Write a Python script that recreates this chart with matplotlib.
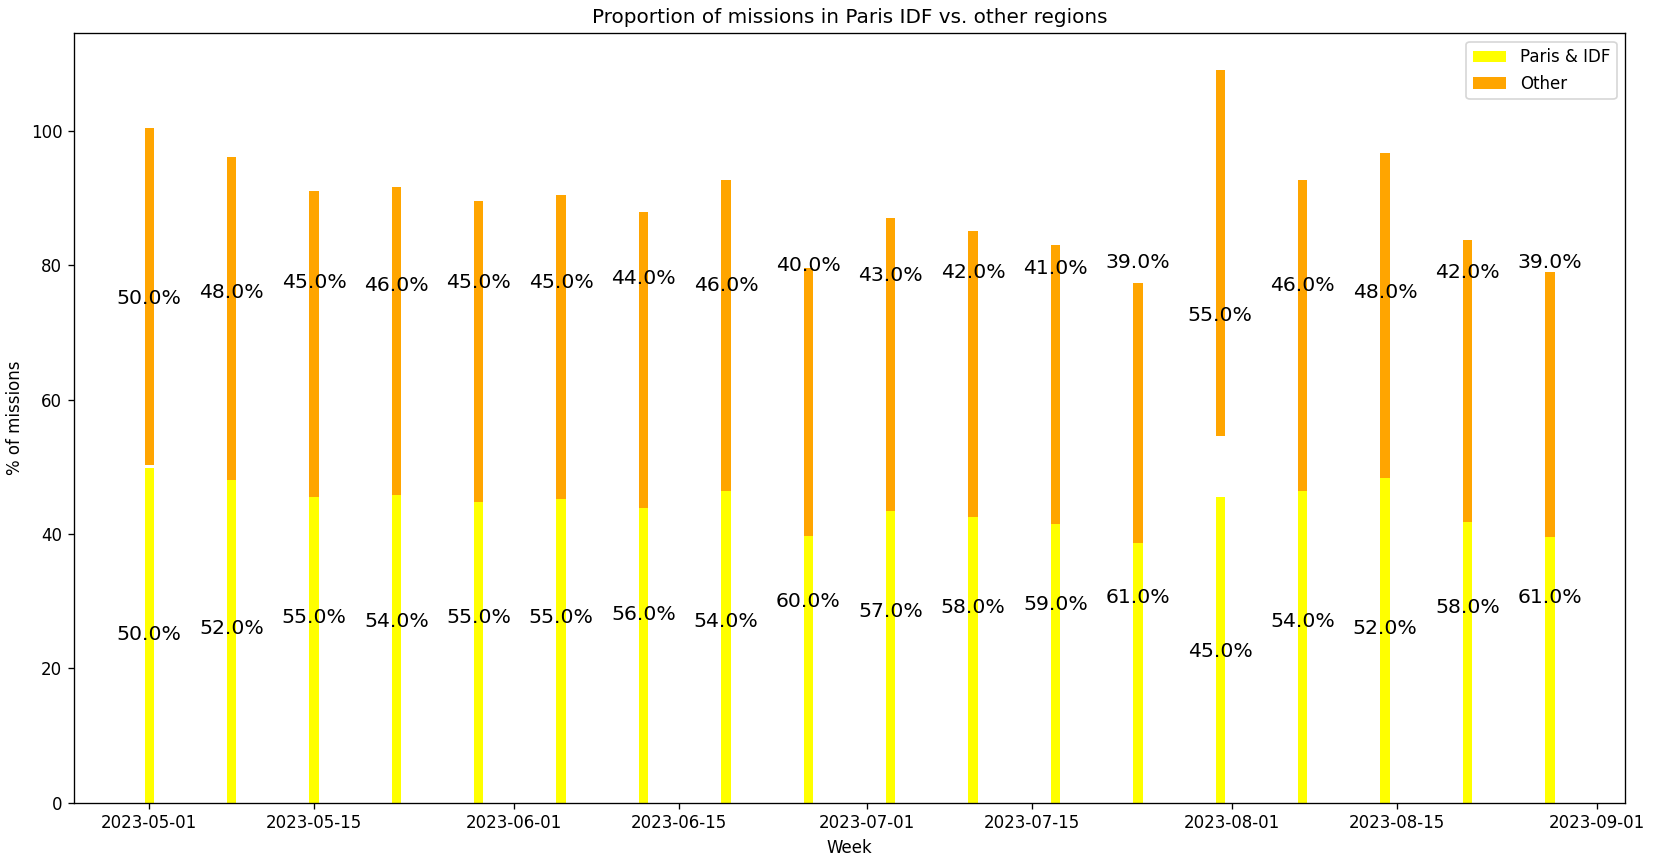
import matplotlib
matplotlib.use("Agg")
import matplotlib.pyplot as plt
import pandas as pd

weeks = ["2023-05-01", "2023-05-08", "2023-05-15", "2023-05-22", "2023-05-29", "2023-06-05",
         "2023-06-12", "2023-06-19", "2023-06-26", "2023-07-03", "2023-07-10", "2023-07-17",
         "2023-07-24", "2023-07-31", "2023-08-07", "2023-08-14", "2023-08-21", "2023-08-28"]

idf_values = [49.9, 48.1, 45.55, 45.85, 44.82, 45.27, 43.95, 46.35, 39.77, 43.5, 42.55, 41.5,
              38.7, 45.5, 46.35, 48.38, 41.86, 39.5]
other_values = [50.25, 48.1, 45.55, 45.85, 44.82, 45.27, 43.95, 46.35, 39.77, 43.5, 42.55, 41.5,
                38.7, 54.55, 46.35, 48.38, 41.86, 39.5]

idf_labels = [50, 52, 55, 54, 55, 55, 56, 54, 60, 57, 58, 59, 61, 45, 54, 52, 58, 61]
other_labels = [50, 48, 45, 46, 45, 45, 44, 46, 40, 43, 42, 41, 39, 55, 46, 48, 42, 39]

dates = pd.to_datetime(weeks)

DPI = 120
fig = plt.figure(figsize=(1654 / DPI, 864 / DPI), dpi=DPI)
ax = fig.add_axes([74 / 1654, 1 - 802.7 / 864, (1625 - 74) / 1654, (802.7 - 33.3) / 864])

ax.bar(dates, idf_values, color="yellow", label="Paris & IDF")
ax.bar(dates, other_values, bottom=other_values, color="orange", label="Other")

for d, a, b in zip(dates, idf_labels, other_labels):
    ax.text(d, a / 2, f"{float(a):.1f}%", ha="center", va="center", fontsize=12.2)
    ax.text(d, a + b / 2, f"{float(b):.1f}%", ha="center", va="center", fontsize=12.2)

ax.set_title("Proportion of missions in Paris IDF vs. other regions")
ax.set_xlabel("Week")
ax.set_ylabel("% of missions")
ax.legend(loc="upper right")

fig.savefig("out.png", dpi=DPI)
